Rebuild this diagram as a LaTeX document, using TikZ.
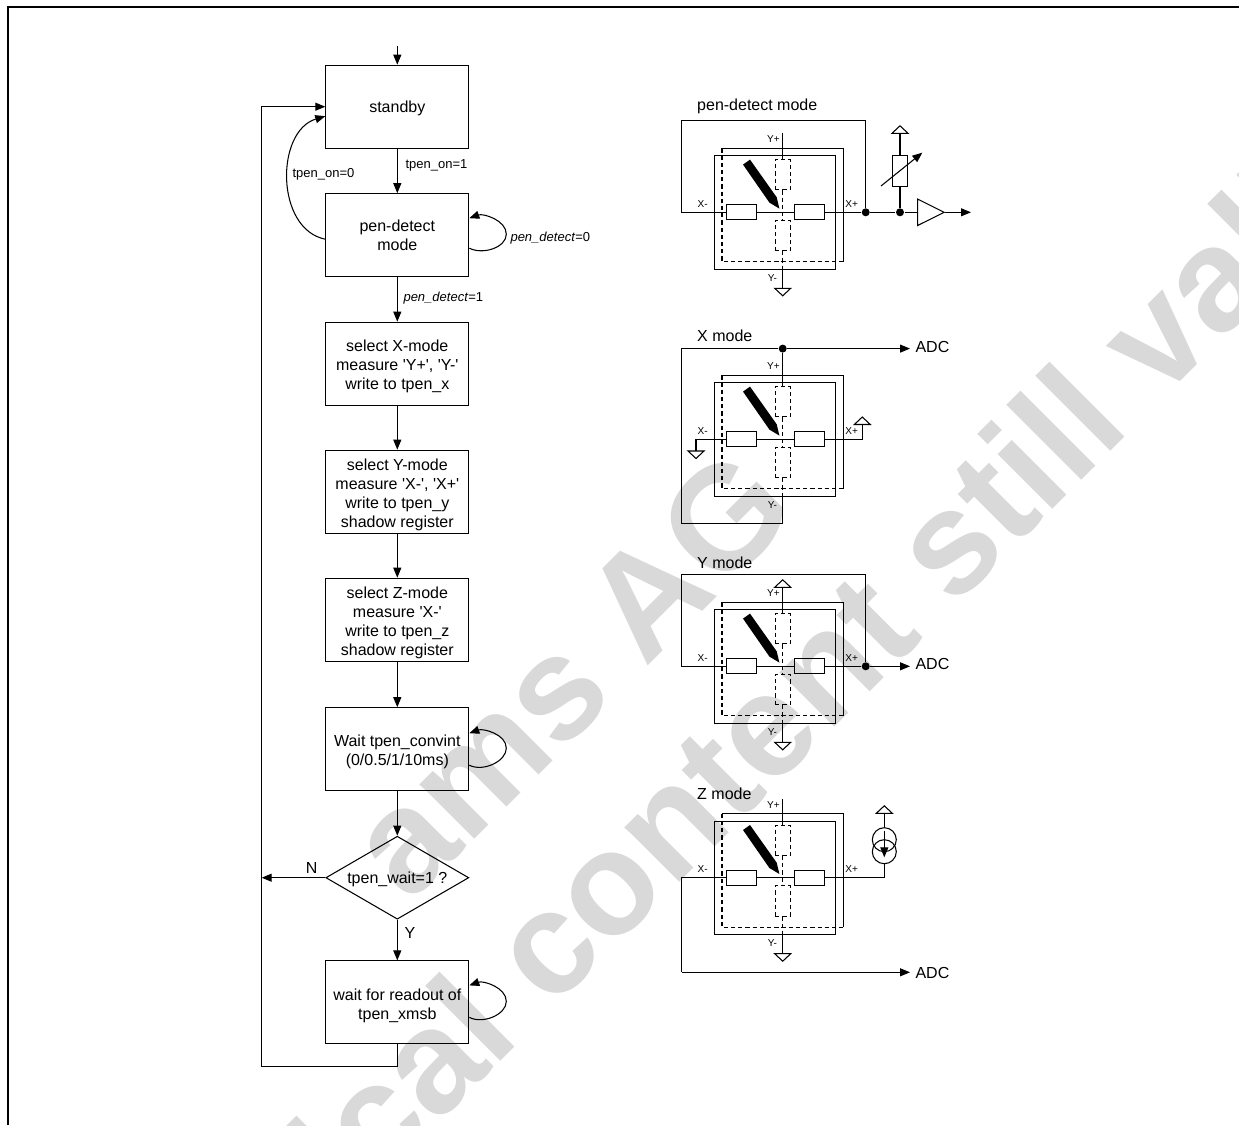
\documentclass[tikz,border=0pt]{standalone}
\usepackage{fontspec}
\setmainfont{Liberation Sans}
\usetikzlibrary{arrows.meta,shapes.geometric,calc}

\newcommand{\fsmain}{\fontsize{9.1}{10.8}\selectfont}
\newcommand{\fslabel}{\fontsize{7.4}{8.8}\selectfont}
\newcommand{\fspin}{\fontsize{5.7}{6.8}\selectfont}
\newcommand{\topgap}{\\[-0.8pt]}
\newcommand{\selfloop}[3]{\draw[arr] ($(#1.east)+(0,#2)$) .. controls +(14,7) and +(0,13) .. ($(#1.east)+(37,-1)$) .. controls +(0,-14) and +(14,-5) .. ($(#1.east)+(0,#3)$);}

\begin{document}
\begin{tikzpicture}[
    x=0.02cm, y=-0.02cm, line width=0.6pt,
    box/.style={draw, minimum width=2.86cm, minimum height=1.66cm, align=center, font=\fsmain, inner sep=0pt},
    decide/.style={draw, diamond, aspect=1.72, minimum width=2.86cm, minimum height=1.66cm, font=\fsmain, inner sep=0pt, execute at begin node={\rule{0pt}{8.5pt}}},
    arr/.style={-{Triangle[length=2mm,width=1.6mm]}},
    lab/.style={font=\fslabel, inner sep=0pt, anchor=west},
    pinlab/.style={font=\fspin, inner sep=0pt},
    title/.style={font=\fsmain, inner sep=0pt, anchor=west},
    res/.style={draw, minimum width=0.606cm, minimum height=0.3cm, inner sep=0pt},
    resv/.style={draw, minimum width=0.3cm, minimum height=0.606cm, inner sep=0pt},
    dash1/.style={dash pattern=on 2.4pt off 1.7pt},
    dot/.style={circle, fill=black, minimum size=0.16cm, inner sep=0pt},
    wmark/.style={font=\bfseries\fontsize{83.3}{83.3}\selectfont, text=black!15, rotate=45, inner sep=0pt, anchor=base west},
    gnd/.pic={\draw (-8,0) -- (8,0) -- (0,7.5) -- cycle;},
    vcc/.pic={\draw (-8,0) -- (8,0) -- (0,-7.5) -- cycle;},
    panel/.pic={
        \draw (-68.4,-56.6) rectangle (53,57);
        \draw (-60.7,-64) -- (60.6,-64) -- (60.6,49.4);
        \draw[dash1] (-60.7,-64) -- (-60.7,49.4) -- (60.6,49.4);
        \node[res] (-xl) at (-41.5,0) {};
        \node[res] (-xr) at (26.5,0) {};
        \node[resv, dash1] (-yt) at (0,-37.5) {};
        \node[resv, dash1] (-yb) at (0,23.2) {};
        \coordinate (-up) at (0,-79);
        \coordinate (-dn) at (0,76);
        \draw (-xl.east) -- (-xr.west);
        \draw[dash1] (-yt.south) -- (-yb.north);
        \draw[dash1] (-yb.south) -- (0,57);
        \draw (0,57) -- (-dn);
        \draw (-yt.north) -- (-up);
        \fill (-39.7,-47.7) -- (-32.7,-52.7) -- (-6,-15) -- (-3.3,-3.7) -- (-13.3,-9.7) -- cycle;
        \node[pinlab] (-xm) at (-80,-8.3) {X-};
        \node[pinlab] (-xp) at (69,-8.3) {X+};
        \node[pinlab] (-yp) at (-9.3,-73) {Y+};
        \node[pinlab] (-ym) at (-10.4,65.5) {Y-};
    }
]
\useasboundingbox (0,0) rectangle (1239,1125);

% watermark
\node[wmark] (wm1) at (409.5,904.5) {ams AG};
\node[wmark] (wm2) at (52.6,1509.5) {Technical content still valid};

\draw[line width=1.15pt] (8,1125) -- (8,7) -- (1239,7);

% flow chart
\coordinate (start) at (397.3,45.7);
\node[box] (standby) at (397.3,106.7) {\rule{0pt}{8.5pt}standby};
\node[box] (pen) at (397.3,235.2) {pen-detect\\mode};
\node[box] (selx) at (397.3,363.7) {\topgap select X-mode\\measure \textquotesingle Y+\textquotesingle, \textquotesingle Y-\textquotesingle\\write to tpen\_x};
\node[box] (sely) at (397.3,491.7) {\topgap select Y-mode\\measure \textquotesingle X-\textquotesingle, \textquotesingle X+\textquotesingle\\write to tpen\_y\\shadow register};
\node[box] (selz) at (397.3,619.7) {\topgap select Z-mode\\measure \textquotesingle X-\textquotesingle\\write to tpen\_z\\shadow register};
\node[box] (conv) at (397.3,749.2) {\topgap Wait tpen\_convint\\(0/0.5/1/10ms)};
\node[decide] (twait) at (397.3,877.7) {tpen\_wait=1 ?};
\node[box] (readout) at (397.3,1002.4) {\topgap wait for readout of\\tpen\_xmsb};

\coordinate (rail) at (261.7,1066.3);
\draw[arr] (start) -- (standby);
\draw[arr] (standby) -- (pen);
\draw[arr] (pen) -- (selx);
\draw[arr] (selx) -- (sely);
\draw[arr] (sely) -- (selz);
\draw[arr] (selz) -- (conv);
\draw[arr] (conv) -- (twait);
\draw[arr] (twait) -- (readout);
\draw[arr] (readout.south) |- (rail) |- (standby.west);
\draw[arr] (twait.west) -- (twait.west -| rail);
\draw[arr] ($(pen.west)+(0,4)$) .. controls +(-50,-10) and +(-50,15) .. ($(standby.west)+(0,9.5)$);
\selfloop{pen}{13}{-17}
\selfloop{conv}{16}{-16}
\selfloop{readout}{15}{-17}

\node[lab] (lon) at (405,165) {tpen\_on=1};
\node[lab] (loff) at (292,174) {tpen\_on=0};
\node[lab] (ldet0) at (510,238) {\textit{pen\_detect}=0};
\node[lab] (ldet1) at (403,298) {\textit{pen\_detect}=1};
\node[font=\fsmain, inner sep=0pt] (lno) at (311.7,868) {N};
\node[font=\fsmain, inner sep=0pt] (lyes) at (410,933) {Y};

% pen-detect mode
\node[title] (tpd) at (696.7,106) {pen-detect mode};
\pic (pd) at (782.7,212.3) {panel};
\node[dot] (pdj) at (865.7,212.3) {};
\node[dot] (pdk) at (900,212.3) {};
\coordinate (pdw) at (681.7,212.3);
\coordinate (pdt) at (681.7,120.6);
\coordinate (pdc) at (865.7,120.6);
\draw (pd-xl.west) -- (pdw) -- (pdt) -- (pdc) -- (pdj);
\draw (pd-xr.east) -- (pdj) -- (pdk);
\node[resv] (pdr) at (900,171) {};
\coordinate (pdv) at (900,133.3);
\draw (pdk) -- (pdr) -- (pdv);
\pic at (pdv) {vcc};
\coordinate (pda) at (881,186);
\coordinate (pdb) at (922.3,152.7);
\draw[arr] (pda) -- (pdb);
\node[draw, isosceles triangle, isosceles triangle apex angle=53, minimum width=0.46cm, minimum height=0.53cm, inner sep=0pt, anchor=apex] (pdamp) at (945.3,212.3) {};
\coordinate (pdo) at (971,212.3);
\draw (pdk) -- (pdamp.lower side |- pdk);
\draw[arr] (pdamp.apex) -- (pdo);
\pic at (pd-dn) {gnd};

% X mode
\node[title] (txm) at (696.7,336) {X mode};
\pic (xm) at (782.7,439.3) {panel};
\node[dot] (xmj) at (782.7,348.6) {};
\node[lab, font=\fsmain] (xmadc) at (915,347) {ADC};
\coordinate (xme) at (910,348.6);
\coordinate (xma) at (681.7,348.6);
\coordinate (xmb) at (681.7,523.3);
\coordinate (xmc) at (782.7,523.3);
\draw (xm-up) -- (xmj) -- (xma) -- (xmb) -- (xmc) -- (xm-dn);
\draw[arr] (xmj) -- (xme);
\coordinate (xmg) at (696,451);
\coordinate (xmv) at (862.3,424.5);
\draw (xm-xl.west) -| (xmg);
\draw (xm-xr.east) -| (xmv);
\pic at (xmg) {gnd};
\pic at (xmv) {vcc};

% Y mode
\node[title] (tym) at (696.7,562.7) {Y mode};
\pic (ym) at (782.7,666.3) {panel};
\node[dot] (ymj) at (865.7,666.3) {};
\node[lab, font=\fsmain] (ymadc) at (915,664) {ADC};
\coordinate (yme) at (910,666.3);
\coordinate (ymw) at (681.7,666.3);
\coordinate (ymt) at (681.7,574.3);
\coordinate (ymc) at (865.7,574.3);
\draw (ym-xl.west) -- (ymw) -- (ymt) -- (ymc) -- (ymj);
\draw (ym-xr.east) -- (ymj);
\draw[arr] (ymj) -- (yme);
\pic at (ym-up) {vcc};
\pic at (ym-dn) {gnd};

% Z mode
\node[title] (tzm) at (696.7,794) {Z mode};
\pic (zm) at (782.7,877.7) {panel};
\node[lab, font=\fsmain] (zmadc) at (915,973) {ADC};
\coordinate (zme) at (910,972.3);
\coordinate (zmw) at (681.7,877.7);
\coordinate (zmb) at (681.7,972.3);
\draw (zm-xl.west) -- (zmw) -- (zmb);
\draw[arr] (zmb) -- (zme);
\node[circle, draw, minimum size=0.48cm, inner sep=0pt] (zms) at (884.3,839.7) {};
\node[circle, draw, minimum size=0.48cm, inner sep=0pt] (zmi) at (884.3,851.7) {};
\coordinate (zmv) at (884.3,813.3);
\coordinate (zmg) at (884.3,830.7);
\coordinate (zmh) at (884.3,857.3);
\draw (zm-xr.east) -| (zmi.south);
\draw (zms.north) -- (zmv);
\draw[arr] (zmg) -- (zmh);
\pic at (zmv) {vcc};
\pic at (zm-dn) {gnd};
\end{tikzpicture}
\end{document}
